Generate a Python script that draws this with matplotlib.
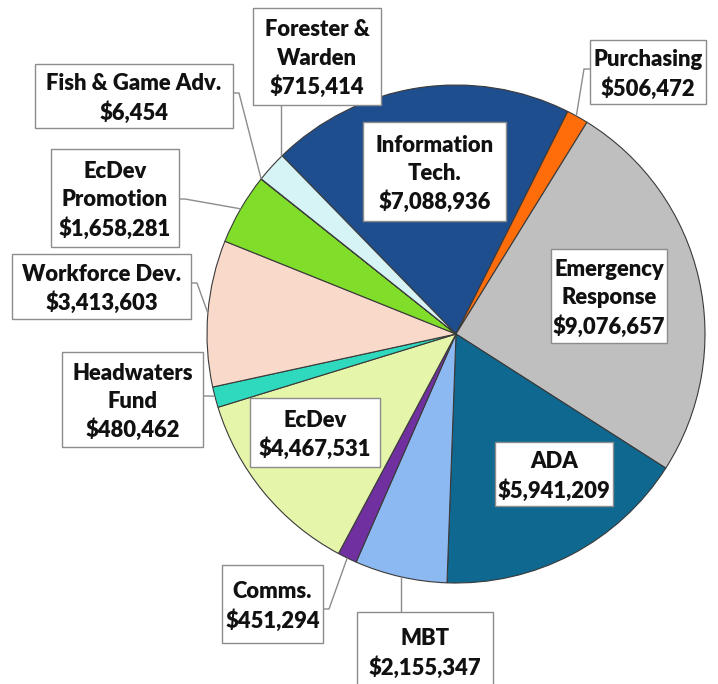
import matplotlib
matplotlib.use("Agg")
import matplotlib.pyplot as plt
import numpy as np
from matplotlib.patches import Rectangle

# ---- data (clockwise from the top-left edge of the Information Tech slice) ----
names = ["Information\nTech.", "Purchasing", "Emergency\nResponse", "ADA", "MBT",
         "Comms.", "EcDev", "Headwaters\nFund", "Workforce Dev.",
         "EcDev\nPromotion", "Fish & Game Adv.", "Forester &\nWarden"]
amounts = [7088936, 506472, 9076657, 5941209, 2155347, 451294, 4467531,
           480462, 3413603, 1658281, 6454, 715414]
colors = ["#1f4e8f", "#ff6d0a", "#bfbfbf", "#0e6890", "#8db9f2", "#7030a0",
          "#e5f5aa", "#2fd9bd", "#f9d9c9", "#80dd2a", "#ffc000", "#d6f3f5"]

# ---- layout, in pixels measured from the top-left corner ----
W, H = 718, 684
CX, CY, R = 456, 334, 249
START = 134.3

# label box (x0, y0, x1, y1)
boxes = [(363, 122, 506, 221), (590, 40, 706, 104), (551, 249, 667, 343),
         (495, 442, 613, 506), (357, 612, 493, 692), (222, 565, 323, 643),
         (250, 398, 380, 467), (62, 352, 203, 447), (12, 254, 191, 319),
         (51, 149, 179, 247), (35, 64, 233, 128), (253, 8, 381, 105)]
# leader lines: (kind, anchor y on box edge, fraction along wedge arc)
leaders = {
    1: ("left", 69, 0.56),
    4: ("top", None, 0.5),
    5: ("right", 609, 0.5),
    7: ("right", 396, 0.45),
    8: ("right", 283, 0.5),
    9: ("right", 199, 0.5),
    10: ("right", 93, 0.5),
    11: ("bottom", None, 0.03),
}


def py(y):
    return H - y


fig = plt.figure(figsize=(W / 100, H / 100), dpi=100)
ax = fig.add_axes([0, 0, 1, 1])

wedges, _ = ax.pie(amounts, colors=colors, startangle=START, counterclock=False,
                   radius=R, center=(CX, py(CY)),
                   wedgeprops=dict(edgecolor="#3a3a3a", linewidth=0.8))
ax.set_xlim(0, W)
ax.set_ylim(0, H)
ax.set_aspect("equal")
ax.axis("off")

LINE_STEP = 28.5
font = dict(family=["Lato", "DejaVu Sans"], fontsize=15.8, fontweight="heavy",
            color="#111111")

for i, (label, amt) in enumerate(zip(names, amounts)):
    x0, y0, x1, y1 = boxes[i]
    ax.add_patch(Rectangle((x0, py(y1)), x1 - x0, y1 - y0, facecolor="white",
                           edgecolor="#8c8c8c", linewidth=1.0, zorder=5))
    lines = label.split("\n") + [f"${amt:,}"]
    xc = (x0 + x1) / 2
    yc = (y0 + min(y1, 690)) / 2
    for k, line in enumerate(lines):
        yy = yc + (k - (len(lines) - 1) / 2) * LINE_STEP
        ax.text(xc, py(yy), line, ha="center", va="center_baseline", zorder=6, **font)

    if i in leaders:
        kind, anchor, frac = leaders[i]
        w = wedges[i]
        th = np.deg2rad(w.theta1 + frac * (w.theta2 - w.theta1))
        tx = CX + R * np.cos(th)
        ty = CY - R * np.sin(th)
        if kind == "left":
            pts = [(x0, anchor), (x0 - 6, anchor), (tx, ty)]
        elif kind == "right":
            pts = [(x1, anchor), (x1 + 6, anchor), (tx, ty)]
        elif kind == "top":
            pts = [(tx, y0), (tx, ty)]
        else:
            pts = [(tx, y1), (tx, ty)]
        ax.plot([p[0] for p in pts], [py(p[1]) for p in pts], color="#8c8c8c",
                linewidth=1.0, zorder=4, solid_capstyle="butt")

fig.savefig("out.png", dpi=100, facecolor="white")
